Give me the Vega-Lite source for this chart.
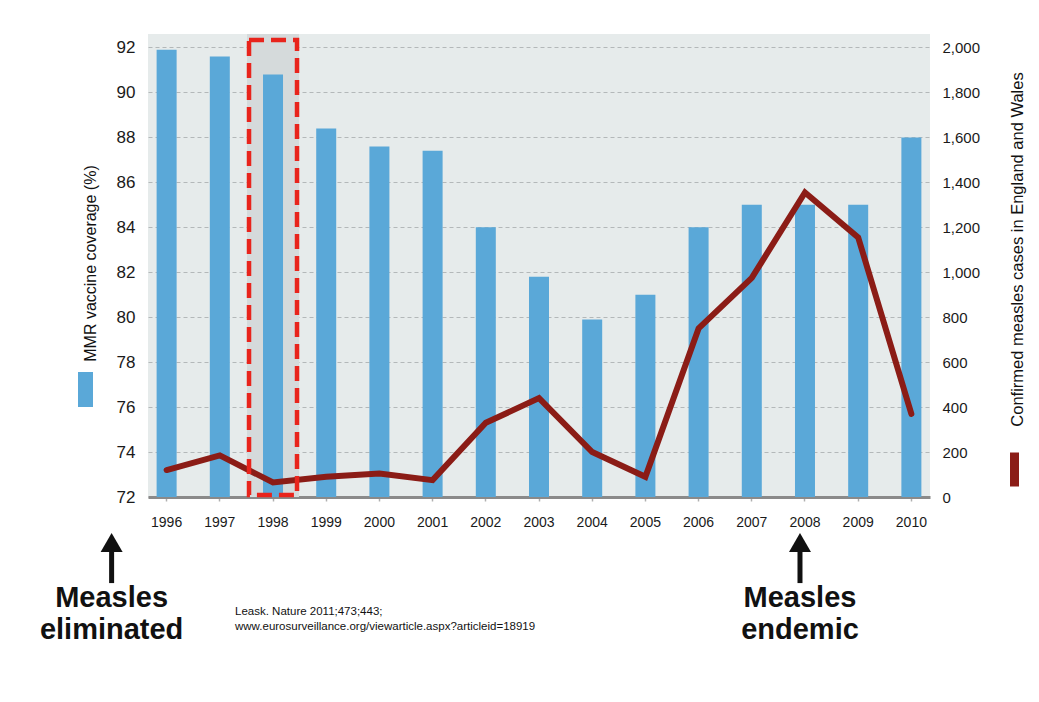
{
  "$schema": "https://vega.github.io/schema/vega-lite/v6.json",
  "width": 782,
  "height": 463,
  "autosize": {"type": "none"},
  "padding": {"left": 148, "top": 34, "right": 109, "bottom": 205},
  "background": "#ffffff",
  "config": {
    "view": {"fill": "#e6ebeb", "stroke": null},
    "font": "Liberation Sans",
    "axisX": {
      "labelFontSize": 14, "labelColor": "#1a1a1a", "labelAngle": 0,
      "domainColor": "#8a8a8a", "domainWidth": 3,
      "tickColor": "#b0b0b0", "tickSize": 4, "tickWidth": 1.5, "labelPadding": 14,
      "grid": false, "title": null
    }
  },
  "datasets": {
    "main": [
      {"year": "1996", "coverage": 91.9, "cases": 120},
      {"year": "1997", "coverage": 91.6, "cases": 185},
      {"year": "1998", "coverage": 90.8, "cases": 65},
      {"year": "1999", "coverage": 88.4, "cases": 90},
      {"year": "2000", "coverage": 87.6, "cases": 105},
      {"year": "2001", "coverage": 87.4, "cases": 75},
      {"year": "2002", "coverage": 84.0, "cases": 330},
      {"year": "2003", "coverage": 81.8, "cases": 440},
      {"year": "2004", "coverage": 79.9, "cases": 200},
      {"year": "2005", "coverage": 81.0, "cases": 90},
      {"year": "2006", "coverage": 84.0, "cases": 750},
      {"year": "2007", "coverage": 85.0, "cases": 975},
      {"year": "2008", "coverage": 85.0, "cases": 1355},
      {"year": "2009", "coverage": 85.0, "cases": 1155},
      {"year": "2010", "coverage": 88.0, "cases": 370}
    ],
    "highlight": [{"year": "1998"}],
    "eliminated": [{"year": "1996", "label": "Measles\neliminated"}],
    "endemic": [{"year": "2008", "label": "Measles\nendemic"}],
    "source": [{"year": "1998", "label": "Leask. Nature 2011;473;443;\nwww.eurosurveillance.org/viewarticle.aspx?articleid=18919"}]
  },
  "layer": [
    {
      "layer": [
        {
          "data": {"name": "highlight"},
          "mark": {"type": "bar", "width": 52, "color": "#d5dadb"},
          "encoding": {
            "x": {"field": "year", "type": "nominal", "title": null,
                  "scale": {"paddingInner": 0.624, "paddingOuter": 0.162}},
            "y": {"datum": 72, "type": "quantitative",
                  "scale": {"domain": [72, 92.6], "nice": false, "zero": false},
                  "axis": {
                    "orient": "left", "values": [72, 74, 76, 78, 80, 82, 84, 86, 88, 90, 92],
                    "title": "MMR vaccine coverage (%)",
                    "titleAngle": 270, "titleX": -58, "titleY": 229, "titleAlign": "center",
                    "titleBaseline": "middle", "titleFontSize": 16, "titleFontWeight": "normal",
                    "titleColor": "#111111",
                    "labelFontSize": 17, "labelColor": "#1a1a1a", "labelPadding": 13,
                    "ticks": false, "tickSize": 0, "domain": false,
                    "grid": true, "gridColor": "#b3b8b9", "gridDash": [4, 3], "gridWidth": 1.2
                  }},
            "y2": {"datum": 92.6}
          }
        },
        {
          "data": {"name": "main"},
          "mark": {"type": "bar"},
          "encoding": {
            "x": {"field": "year", "type": "nominal", "title": null},
            "y": {"field": "coverage", "type": "quantitative"},
            "y2": {"datum": 72},
            "color": {
              "datum": "MMR vaccine coverage (%)",
              "scale": {"range": ["#5aa8d8"]},
              "legend": {
                "orient": "none", "legendX": -80, "legendY": 338, "title": null,
                "labelExpr": "''", "labelOffset": 0,
                "symbolType": "M-0.43,-1L0.43,-1L0.43,1L-0.43,1Z",
                "symbolSize": 1225, "symbolStrokeWidth": 0, "symbolOpacity": 1
              }
            }
          }
        }
      ]
    },
    {
      "data": {"name": "main"},
      "mark": {"type": "line", "strokeWidth": 6, "strokeJoin": "miter", "strokeCap": "round"},
      "encoding": {
        "x": {"field": "year", "type": "nominal", "title": null},
        "y": {
          "field": "cases", "type": "quantitative",
          "scale": {"domain": [0, 2060], "nice": false, "zero": true},
          "axis": {
            "orient": "right", "values": [0, 200, 400, 600, 800, 1000, 1200, 1400, 1600, 1800, 2000],
            "format": ",.0f", "title": "Confirmed measles cases in England and Wales",
            "titleAngle": 270, "titleX": 87, "titleY": 215, "titleAlign": "center",
            "titleBaseline": "middle", "titleFontSize": 16.5, "titleFontWeight": "normal",
            "titleColor": "#111111",
            "labelFontSize": 15, "labelColor": "#1a1a1a", "labelPadding": 12,
            "ticks": false, "tickSize": 0, "domain": false, "grid": false
          }
        },
        "stroke": {
          "datum": "Confirmed measles cases",
          "scale": {"range": ["#8b1c16"]},
          "legend": {
            "orient": "none", "legendX": 845, "legendY": 414, "title": null,
            "labelExpr": "''", "labelOffset": 0,
            "symbolType": "M0,-1L0,1", "symbolSize": 1156, "symbolStrokeWidth": 9
          }
        }
      }
    },
    {
      "layer": [
        {
          "data": {"name": "highlight"},
          "mark": {"type": "bar", "width": 48, "fill": "#ffffff", "fillOpacity": 0,
                   "stroke": "#e8241c", "strokeWidth": 4.5, "strokeDash": [15, 7]},
          "encoding": {
            "x": {"field": "year", "type": "nominal", "title": null},
            "y": {"datum": 72.09, "type": "quantitative",
                  "scale": {"domain": [72, 92.6], "nice": false, "zero": false},
                  "axis": null},
            "y2": {"datum": 92.33}
          }
        },
        {
          "data": {"name": "eliminated"},
          "mark": {"type": "text", "align": "center", "baseline": "alphabetic", "dx": -55,
                   "fontSize": 29, "fontWeight": "bold", "lineBreak": "\n", "lineHeight": 32,
                   "color": "#111111"},
          "encoding": {
            "x": {"field": "year", "type": "nominal", "title": null},
            "y": {"datum": 67.11, "type": "quantitative", "axis": null},
            "text": {"field": "label"}
          }
        },
        {
          "data": {"name": "eliminated"},
          "mark": {"type": "rule", "strokeWidth": 5, "color": "#111111", "xOffset": -55},
          "encoding": {
            "x": {"field": "year", "type": "nominal", "title": null},
            "y": {"datum": 68.17, "type": "quantitative", "axis": null},
            "y2": {"datum": 69.86}
          }
        },
        {
          "data": {"name": "eliminated"},
          "mark": {"type": "point", "shape": "triangle-up", "filled": true, "size": 484,
                   "color": "#111111", "opacity": 1, "xOffset": -55},
          "encoding": {
            "x": {"field": "year", "type": "nominal", "title": null},
            "y": {"datum": 69.98, "type": "quantitative", "axis": null}
          }
        },
        {
          "data": {"name": "endemic"},
          "mark": {"type": "text", "align": "center", "baseline": "alphabetic", "dx": -5,
                   "fontSize": 29, "fontWeight": "bold", "lineBreak": "\n", "lineHeight": 32,
                   "color": "#111111"},
          "encoding": {
            "x": {"field": "year", "type": "nominal", "title": null},
            "y": {"datum": 67.11, "type": "quantitative", "axis": null},
            "text": {"field": "label"}
          }
        },
        {
          "data": {"name": "endemic"},
          "mark": {"type": "rule", "strokeWidth": 5, "color": "#111111", "xOffset": -5},
          "encoding": {
            "x": {"field": "year", "type": "nominal", "title": null},
            "y": {"datum": 68.17, "type": "quantitative", "axis": null},
            "y2": {"datum": 69.86}
          }
        },
        {
          "data": {"name": "endemic"},
          "mark": {"type": "point", "shape": "triangle-up", "filled": true, "size": 484,
                   "color": "#111111", "opacity": 1, "xOffset": -5},
          "encoding": {
            "x": {"field": "year", "type": "nominal", "title": null},
            "y": {"datum": 69.98, "type": "quantitative", "axis": null}
          }
        },
        {
          "data": {"name": "source"},
          "mark": {"type": "text", "align": "left", "baseline": "alphabetic", "dx": -38,
                   "fontSize": 11.5, "font": "Liberation Sans", "lineBreak": "\n",
                   "lineHeight": 15, "color": "#111111"},
          "encoding": {
            "x": {"field": "year", "type": "nominal", "title": null},
            "y": {"datum": 66.75, "type": "quantitative", "axis": null},
            "text": {"field": "label"}
          }
        }
      ]
    }
  ],
  "resolve": {"scale": {"y": "independent"}}
}
